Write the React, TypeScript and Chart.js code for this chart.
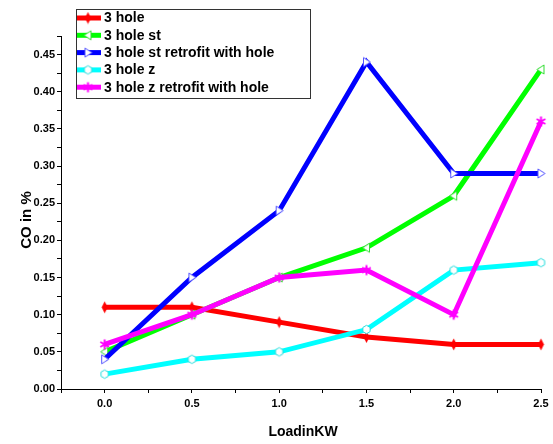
import React, { useEffect, useRef } from 'react';
import { Chart, registerables } from 'chart.js';

Chart.register(...registerables);

const loads = [0, 0.5, 1.0, 1.5, 2.0, 2.5];
const hole3 = [0.11, 0.11, 0.09, 0.07, 0.06, 0.06];
const hole3St = [0.05, 0.1, 0.15, 0.19, 0.26, 0.43];
const hole3StRetrofit = [0.04, 0.15, 0.24, 0.44, 0.29, 0.29];
const hole3Z = [0.02, 0.04, 0.05, 0.08, 0.16, 0.17];
const hole3ZRetrofit = [0.06, 0.1, 0.15, 0.16, 0.1, 0.36];

const seriesNames = [
  '3 hole',
  '3 hole st',
  '3 hole st retrofit with hole',
  '3 hole z',
  '3 hole z retrofit with hole',
];
const seriesValues = [hole3, hole3St, hole3StRetrofit, hole3Z, hole3ZRetrofit];
const seriesColors = ['#ff0000', '#00ff00', '#0000ff', '#00ffff', '#ff00ff'];
const markerKinds = ['diamond', 'triLeft', 'triRight', 'hex', 'star'];

const xTickValues = [-0.25, 0, 0.25, 0.5, 0.75, 1, 1.25, 1.5, 1.75, 2, 2.25, 2.5];
const xTickLabels = ['0.0', '0.5', '1.0', '1.5', '2.0', '2.5'];
const yTickValues = [
  0, 0.025, 0.05, 0.075, 0.1, 0.125, 0.15, 0.175, 0.2, 0.225, 0.25, 0.275, 0.3, 0.325,
  0.35, 0.375, 0.4, 0.425, 0.45, 0.475,
];
const yTickLabels = ['0.00', '0.05', '0.10', '0.15', '0.20', '0.25', '0.30', '0.35', '0.40', '0.45'];

const xTitle = 'LoadinKW';
const yTitle = 'CO in %';
const FONT = '"Liberation Sans", Arial, sans-serif';

function makeMarker(kind: string, color: string): HTMLCanvasElement {
  const c = document.createElement('canvas');
  const s = 13;
  c.width = s;
  c.height = s;
  const ctx = c.getContext('2d')!;
  const m = s / 2;
  ctx.lineWidth = 1;
  if (kind === 'diamond') {
    ctx.fillStyle = color;
    ctx.beginPath();
    ctx.moveTo(m, m - 6);
    ctx.lineTo(m + 3, m);
    ctx.lineTo(m, m + 6);
    ctx.lineTo(m - 3, m);
    ctx.closePath();
    ctx.fill();
  } else if (kind === 'triLeft' || kind === 'triRight') {
    const d = kind === 'triLeft' ? 1 : -1;
    ctx.fillStyle = '#ffffff';
    ctx.strokeStyle = kind === 'triLeft' ? '#33dd33' : '#5555ff';
    ctx.beginPath();
    ctx.moveTo(m - 4 * d, m);
    ctx.lineTo(m + 3 * d, m - 4.5);
    ctx.lineTo(m + 3 * d, m + 4.5);
    ctx.closePath();
    ctx.fill();
    ctx.stroke();
  } else if (kind === 'hex') {
    ctx.fillStyle = '#ffffff';
    ctx.strokeStyle = '#22dddd';
    ctx.beginPath();
    for (let i = 0; i < 6; i++) {
      const a = (Math.PI / 3) * i + Math.PI / 6;
      const px = m + 4.2 * Math.cos(a);
      const py = m + 4.2 * Math.sin(a);
      if (i === 0) ctx.moveTo(px, py);
      else ctx.lineTo(px, py);
    }
    ctx.closePath();
    ctx.fill();
    ctx.stroke();
  } else if (kind === 'star') {
    ctx.strokeStyle = color;
    ctx.lineWidth = 2;
    ctx.beginPath();
    for (let i = 0; i < 3; i++) {
      const a = (Math.PI / 3) * i + Math.PI / 2;
      ctx.moveTo(m + 5 * Math.cos(a), m + 5 * Math.sin(a));
      ctx.lineTo(m - 5 * Math.cos(a), m - 5 * Math.sin(a));
    }
    ctx.stroke();
  }
  return c;
}

export default function App() {
  const ref = useRef<HTMLCanvasElement | null>(null);

  useEffect(() => {
    if (!ref.current) return;
    const markers = markerKinds.map((k, i) => makeMarker(k, seriesColors[i]));

    const decorations = {
      id: 'decorations',
      afterDraw(chart: any) {
        const ctx = chart.ctx as CanvasRenderingContext2D;
        ctx.save();
        // legend
        ctx.fillStyle = '#ffffff';
        ctx.fillRect(76, 9, 235, 90);
        ctx.strokeStyle = '#333333';
        ctx.lineWidth = 1;
        ctx.strokeRect(76.5, 9.5, 234, 89);
        ctx.font = `bold 14px ${FONT}`;
        ctx.textBaseline = 'middle';
        ctx.textAlign = 'left';
        seriesNames.forEach((name, i) => {
          const y = 18 + i * 17.3;
          ctx.strokeStyle = seriesColors[i];
          ctx.lineWidth = 5;
          ctx.beginPath();
          ctx.moveTo(77, y);
          ctx.lineTo(101, y);
          ctx.stroke();
          ctx.drawImage(markers[i], 88 - 6.5, y - 6.5);
          ctx.fillStyle = '#000000';
          ctx.fillText(name, 104, y + 0.5);
        });
        // axis titles
        ctx.fillStyle = '#000000';
        ctx.textAlign = 'center';
        ctx.font = `bold 14px ${FONT}`;
        ctx.fillText(xTitle, 303, 432);
        ctx.translate(27, 220);
        ctx.rotate(-Math.PI / 2);
        ctx.font = `bold 15px ${FONT}`;
        ctx.fillText(yTitle, 0, 0);
        ctx.restore();
      },
    };

    const chart = new Chart(ref.current, {
      type: 'line',
      data: {
        datasets: seriesNames.map((name, i) => ({
          label: name,
          data: loads.map((x, j) => ({ x, y: seriesValues[i][j] })),
          borderColor: seriesColors[i],
          backgroundColor: seriesColors[i],
          borderWidth: 5,
          tension: 0,
          pointStyle: markers[i] as any,
          pointRadius: 5,
          order: seriesNames.length - i,
          clip: false as any,
        })),
      },
      options: {
        animation: false,
        responsive: false,
        devicePixelRatio: 1,
        layout: { padding: { top: 36, right: 12, left: 0, bottom: 0 } },
        plugins: { legend: { display: false }, tooltip: { enabled: false } },
        scales: {
          x: {
            type: 'linear',
            min: -0.25,
            max: 2.5,
            afterBuildTicks: (scale: any) => {
              scale.ticks = xTickValues.map((v) => ({ value: v }));
            },
            afterFit: (scale: any) => {
              scale.height = 55;
            },
            ticks: {
              autoSkip: false,
              maxRotation: 0,
              minRotation: 0,
              padding: 4,
              color: '#000000',
              font: { family: FONT, size: 11, weight: 'bold' },
              callback: (v: any) => {
                const idx = loads.findIndex((l) => Math.abs(l - Number(v)) < 1e-6);
                return idx >= 0 ? xTickLabels[idx] : '';
              },
            },
            grid: {
              drawOnChartArea: false,
              drawTicks: true,
              tickLength: 4,
              tickColor: '#000000',
              color: '#000000',
            },
            border: { display: true, color: '#000000', width: 1 },
          },
          y: {
            type: 'linear',
            min: 0,
            max: 0.475,
            afterBuildTicks: (scale: any) => {
              scale.ticks = yTickValues.map((v) => ({ value: v }));
            },
            afterFit: (scale: any) => {
              scale.width = 61;
            },
            ticks: {
              autoSkip: false,
              padding: 2,
              color: '#000000',
              font: { family: FONT, size: 11, weight: 'bold' },
              callback: (v: any) => {
                const n = Math.round(Number(v) * 40);
                return n % 2 === 0 ? yTickLabels[n / 2] ?? '' : '';
              },
            },
            grid: {
              drawOnChartArea: false,
              drawTicks: true,
              tickLength: 4,
              tickColor: '#000000',
              color: '#000000',
            },
            border: { display: true, color: '#000000', width: 1 },
          },
        },
      },
      plugins: [decorations],
    } as any);

    return () => chart.destroy();
  }, []);

  return (
    <div style={{ position: 'fixed', left: 0, top: 0, width: 553, height: 444, background: '#ffffff' }}>
      <canvas ref={ref} width={553} height={444} />
    </div>
  );
}
